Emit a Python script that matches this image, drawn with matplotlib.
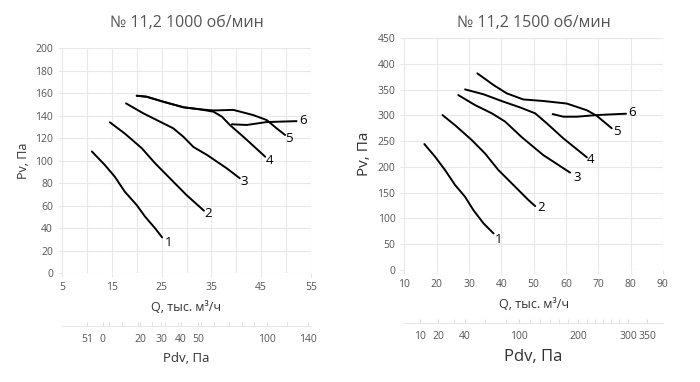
import matplotlib
matplotlib.use("Agg")
import matplotlib.pyplot as plt

plt.rcParams['font.family'] = ['Open Sans', 'DejaVu Sans']

# --- № 11,2 1000 об/мин ---
q1_1 = [11.0, 13.6, 15.6, 17.6, 20.0, 21.7, 23.7, 25.1]
p1_1 = [108, 96, 85.6, 72.3, 60.4, 50, 39.7, 31.7]
q1_2 = [14.6, 17.6, 21.0, 23.7, 27.0, 30.0, 33.5]
p1_2 = [134, 124, 111, 97.5, 82.7, 69.3, 55.4]
q1_3 = [17.85, 21.3, 24.0, 27.35, 29.4, 31.4, 34.1, 38.1, 40.7]
p1_3 = [150.8, 142, 136, 128.6, 121, 112, 105, 93, 84.2]
q1_4 = [20.0, 22.0, 25.3, 29.4, 32.7, 35.4, 37.1, 38.7, 41.4, 45.8]
p1_4 = [157.6, 156.7, 152.3, 147.3, 145.5, 143.4, 139, 131.6, 121.2, 103.4]
q1_5 = [20.0, 22.0, 25.3, 29.4, 32.7, 35.4, 39.4, 43.4, 46.1, 48.1, 49.8]
p1_5 = [157.6, 156.7, 152.3, 147.3, 145.5, 144.5, 145, 140.4, 136, 128.6, 122.7]
q1_6 = [39.1, 42.1, 46.1, 52.1]
p1_6 = [132.2, 131.6, 134.2, 135]
curves1 = [(q1_1, p1_1), (q1_2, p1_2), (q1_3, p1_3), (q1_4, p1_4), (q1_5, p1_5), (q1_6, p1_6)]
labels1_q = [26.3, 34.3, 41.5, 46.6, 50.6, 53.4]
labels1_p = [27, 53, 81, 100, 120, 136]

pdv1_labels = ["51", "0", "20", "30", "40", "50", "100", "140"]
pdv1_pos = [10.0, 13.2, 20.7, 24.9, 28.9, 32.3, 46.2, 54.4]
pdv1_minor = [10.0, 14.4, 17.0, 20.2, 23.0, 25.6, 28.2, 33.0, 35.6, 38.6, 41.2, 43.6, 46.2, 50.2, 54.4]

# --- № 11,2 1500 об/мин ---
q2_1 = [16.2, 19.5, 22.6, 25.7, 28.8, 31.4, 34.5, 37.6]
p2_1 = [244.4, 220, 194, 165, 142, 116, 90.6, 71]
q2_2 = [21.8, 25.7, 30.9, 35.0, 39.1, 44.3, 48.4, 50.5]
p2_2 = [300.7, 281, 252, 226, 194, 161.6, 135.8, 124]
q2_3 = [26.7, 31.9, 37.1, 41.2, 46.3, 53.0, 61.3]
p2_3 = [339.5, 320, 304, 288, 258, 223, 189]
q2_4 = [28.8, 34.5, 40.7, 45.8, 50.5, 54.1, 59.2, 66.5]
p2_4 = [350.5, 341, 326.6, 315.6, 304, 284.6, 255.5, 218.6]
q2_5 = [32.6, 37.6, 41.7, 46.8, 53.0, 60.3, 66.5, 69.6, 74.2]
p2_5 = [381.6, 359, 342.8, 331, 328, 323, 310, 299, 275]
q2_6 = [55.9, 59.2, 63.4, 69.6, 78.6]
p2_6 = [302.6, 297.5, 297.5, 300.7, 303.3]
curves2 = [(q2_1, p2_1), (q2_2, p2_2), (q2_3, p2_3), (q2_4, p2_4), (q2_5, p2_5), (q2_6, p2_6)]
labels2_q = [39.2, 52.2, 63.6, 67.6, 75.8, 80.6]
labels2_p = [60, 122, 180, 214, 268, 306]

pdv2_labels = ["10", "20", "40", "100", "200", "300", "350"]
pdv2_pos = [14.9, 20.5, 28.8, 45.5, 63.7, 79.2, 85.1]
pdv2_minor = [14.9, 20.5, 25.5, 28.8, 35.0, 41.5, 45.5, 49.0, 52.0, 55.0, 58.0,
              60.7, 63.7, 66.5, 69.0, 71.5, 74.0, 76.5, 79.2, 85.1]

grid_c = "#e8e8e8"
text_c = "#555555"

fig = plt.figure(figsize=(7, 3.82), dpi=100)


def main_axes(rect, xlim, ylim, xticks, xgrid, yticks, title, lab_size, curves, lq, lp):
    ax = fig.add_axes(rect)
    ax.set_xlim(*xlim)
    ax.set_ylim(*ylim)
    ax.set_xticks(xgrid, minor=True)
    ax.set_xticks(xticks)
    ax.set_yticks(yticks)
    ax.grid(True, which="both", color=grid_c, lw=0.8)
    for s in ax.spines.values():
        s.set_visible(False)
    ax.tick_params(which="both", length=3, color=grid_c, labelsize=7.5, labelcolor=text_c)
    ax.tick_params(axis="x", which="minor", length=0)
    ax.set_axisbelow(True)
    for (q, p) in curves:
        ax.plot(q, p, color="black", lw=1.4, solid_capstyle="round")
    for i in range(len(lq)):
        ax.text(lq[i], lp[i], str(i + 1), fontsize=9.5, ha="center", va="center")
    ax.set_xlabel("Q, тыс. м³/ч", fontsize=9, color="#333333", labelpad=6)
    ax.set_ylabel("Pv, Па", fontsize=lab_size, color="#333333", labelpad=4)
    fig.text(rect[0] + rect[2] / 2, 0.94, title, ha="center", va="center",
             fontsize=11.5, color=text_c)
    return ax


def pdv_axes(rect, xlim, pos, labels, minor, lab_size):
    ax = fig.add_axes(rect)
    ax.set_xlim(*xlim)
    ax.set_ylim(0, 1)
    ax.set_yticks([])
    for k in ["top", "left", "right"]:
        ax.spines[k].set_visible(False)
    ax.spines["bottom"].set_color(grid_c)
    ax.set_xticks(minor, minor=True)
    ax.set_xticks(pos)
    ax.set_xticklabels(labels)
    ax.tick_params(which="both", direction="in", length=3, color="#dddddd",
                   labelsize=7.5, labelcolor=text_c, pad=6)
    ax.set_xlabel("Pdv, Па", fontsize=lab_size, color="#333333", labelpad=5)
    ax.patch.set_alpha(0)
    return ax


main_axes([0.0886, 0.2853, 0.3557, 0.589], (5, 55), (0, 200),
          [5, 15, 25, 35, 45, 55], list(range(5, 56, 5)), list(range(0, 201, 20)),
          "№ 11,2 1000 об/мин", 9, curves1, labels1_q, labels1_p)
pdv_axes([0.0886, 0.1466, 0.3557, 0.001], (5, 55), pdv1_pos, pdv1_labels, pdv1_minor, 9.5)

main_axes([0.5776, 0.2932, 0.3693, 0.607], (10, 90), (0, 450),
          list(range(10, 91, 10)), list(range(10, 91, 10)), list(range(0, 451, 50)),
          "№ 11,2 1500 об/мин", 11, curves2, labels2_q, labels2_p)
pdv_axes([0.5776, 0.1545, 0.3693, 0.001], (10, 90), pdv2_pos, pdv2_labels, pdv2_minor, 12)

fig.savefig("out.png", dpi=100)
